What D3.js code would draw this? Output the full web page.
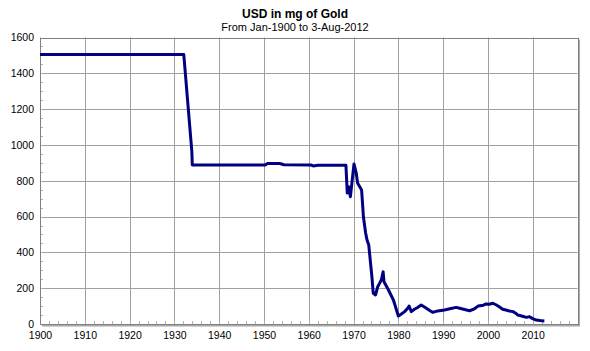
<!DOCTYPE html>
<html lang="en">
<head>
<meta charset="UTF-8"/>
<title>USD in mg of Gold</title>
<script src="https://d3js.org/d3.v7.min.js"></script>
<style>
  body { margin: 0; background: #fff; }
  svg text { font-family: Arial, "Liberation Sans", sans-serif; fill: #000; }
</style>
</head>
<body>
<div id="chart"></div>
<script>
// Values (year, mg of gold per USD)
var years = [1900, 1932.1, 1933.9, 1934.0, 1950.3, 1950.8, 1953.5, 1954.5, 1960.5, 1961.0, 1962.0, 1968.3,
  1968.6, 1968.9, 1969.3, 1970.1, 1970.6, 1970.9, 1971.8, 1972.0, 1972.2, 1972.7, 1973.0, 1973.4, 1973.8,
  1974.1, 1974.4, 1974.9, 1975.4, 1975.8, 1976.2, 1976.6, 1976.8, 1977.8, 1978.9, 1980.0,
  1980.6, 1981.4, 1982.0, 1982.4, 1982.9, 1983.6, 1984.3, 1985.1, 1986.0, 1987.0, 1987.7, 1988.8,
  1990.3, 1991.5, 1992.9, 1993.7, 1995.0, 1995.9, 1997.0, 1997.8, 1999.0, 1999.6, 2000.3, 2001.1,
  2001.9, 2002.6, 2003.3, 2004.0, 2004.8, 2005.6, 2006.2, 2006.7, 2007.5, 2008.6, 2009.3, 2010.0,
  2010.8, 2011.6, 2012.6];
var usdMg = [1505, 1505, 962, 888, 888, 897, 896, 889, 888, 883, 886, 886,
  731, 767, 711, 894, 843, 787, 748, 676, 599, 508, 470, 441, 339,
  264, 171, 162, 208, 227, 246, 292, 236, 190, 134, 45,
  55, 69, 85, 100, 69, 82, 92, 106, 92, 75, 65, 73,
  78, 85, 93, 88, 80, 74, 85, 100, 105, 112, 110, 116,
  106, 95, 82, 78, 73, 69, 60, 50, 45, 37, 41, 30,
  22, 19, 17];

var yTicks = [0, 200, 400, 600, 800, 1000, 1200, 1400, 1600];
var xTicks = [1900, 1910, 1920, 1930, 1940, 1950, 1960, 1970, 1980, 1990, 2000, 2010];

var title = "USD in mg of Gold";
var subtitle = "From Jan-1900 to 3-Aug-2012";

var width = 590, height = 351;
var plotL = 40, plotR = 577.5, plotT = 37.5, plotB = 324;

var svg = d3.select("#chart").append("svg")
  .attr("width", width)
  .attr("height", height);

var x = d3.scaleLinear().domain([1900, 2020]).range([plotL, plotR]);
var y = d3.scaleLinear().domain([0, 1600]).range([plotB, plotT]);
var px = v => Math.round(v) + 0.5;

// titles
svg.append("text")
  .attr("x", 295).attr("y", 18)
  .attr("text-anchor", "middle")
  .style("font-size", "12px").style("font-weight", "bold")
  .text(title);
svg.append("text")
  .attr("x", 295).attr("y", 30.5)
  .attr("text-anchor", "middle")
  .style("font-size", "11px")
  .text(subtitle);

// grid
svg.append("g").selectAll("line")
  .data(yTicks)
  .enter().append("line")
  .attr("x1", plotL).attr("x2", plotR)
  .attr("y1", d => px(y(d))).attr("y2", d => px(y(d)))
  .attr("stroke", "#a0a0a0");
svg.append("g").selectAll("line")
  .data(xTicks.concat([2020]))
  .enter().append("line")
  .attr("x1", d => px(x(d))).attr("x2", d => px(x(d)))
  .attr("y1", plotT).attr("y2", plotB)
  .attr("stroke", "#a0a0a0");

// minor ticks (inside)
svg.append("g").selectAll("line")
  .data(d3.range(0, 1601, 50))
  .enter().append("line")
  .attr("x1", plotL).attr("x2", plotL + 3)
  .attr("y1", d => px(y(d))).attr("y2", d => px(y(d)))
  .attr("stroke", "#b0b0b0");
svg.append("g").selectAll("line")
  .data(d3.range(1900, 2021, 2))
  .enter().append("line")
  .attr("x1", d => px(x(d))).attr("x2", d => px(x(d)))
  .attr("y1", plotB).attr("y2", plotB - 3)
  .attr("stroke", "#b0b0b0");

// frame with shadow
svg.append("line")
  .attr("x1", plotR + 1.5).attr("x2", plotR + 1.5)
  .attr("y1", plotT + 2).attr("y2", plotB + 2)
  .attr("stroke", "#a8a8a8").attr("stroke-width", 2);
svg.append("line")
  .attr("x1", plotL + 2).attr("x2", plotR + 2.5)
  .attr("y1", plotB + 1.5).attr("y2", plotB + 1.5)
  .attr("stroke", "#a8a8a8").attr("stroke-width", 2);
svg.append("rect")
  .attr("x", plotL + 0.5).attr("y", Math.round(plotT) + 0.5)
  .attr("width", Math.round(plotR) - plotL).attr("height", plotB - Math.round(plotT))
  .attr("fill", "none").attr("stroke", "#808080");

// axis labels
var yAxis = d3.axisLeft(y).tickValues(yTicks).tickSize(0).tickPadding(6).tickFormat(d3.format("d"));
svg.append("g").attr("transform", "translate(" + plotL + ",0)")
  .call(yAxis)
  .call(g => g.select(".domain").remove())
  .selectAll("text").style("font-size", "10.5px").style("font-family", "Arial, 'Liberation Sans', sans-serif");

var xAxis = d3.axisBottom(x).tickValues(xTicks).tickSize(0).tickPadding(8).tickFormat(d3.format("d"));
svg.append("g").attr("transform", "translate(0," + plotB + ")")
  .call(xAxis)
  .call(g => g.select(".domain").remove())
  .selectAll("text").style("font-size", "10.5px").style("font-family", "Arial, 'Liberation Sans', sans-serif");

// series
var line = d3.line()
  .x((d, i) => x(years[i]))
  .y(d => y(d));
svg.append("path")
  .datum(usdMg)
  .attr("d", line)
  .attr("fill", "none")
  .attr("stroke", "#000080")
  .attr("stroke-width", 3)
  .attr("stroke-linejoin", "round");
</script>
</body>
</html>
